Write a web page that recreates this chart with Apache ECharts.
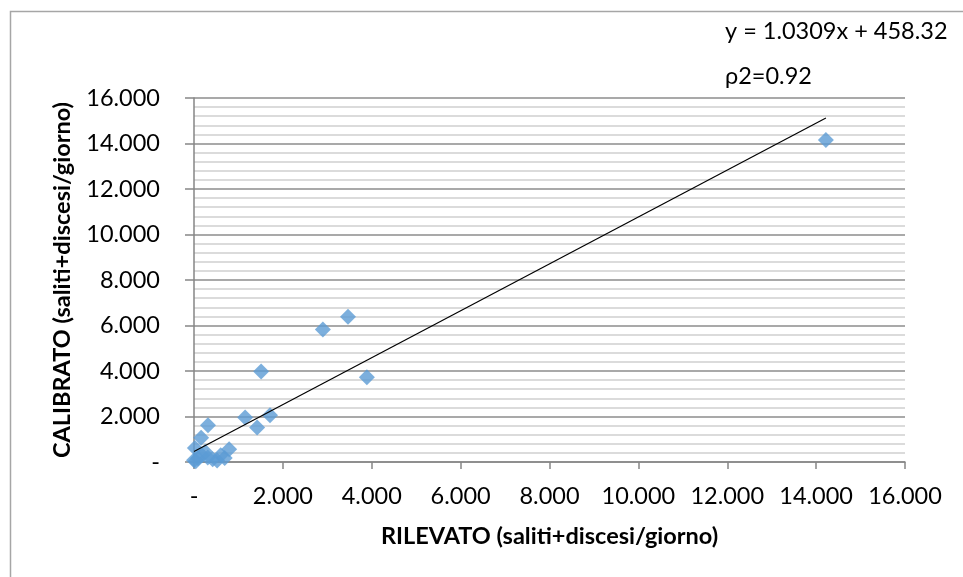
<!DOCTYPE html>
<html>
<head>
<meta charset="utf-8">
<script src="https://cdn.jsdelivr.net/npm/echarts@6/dist/echarts.min.js"></script>
<style>
html,body{margin:0;padding:0;background:#fff;}
#chart{width:963px;height:577px;}
</style>
</head>
<body>
<div id="chart"></div>
<script>
// Observed (RILEVATO) values
const rilevato = [14220, 3465, 2900, 3890, 1510, 1150, 1710, 1420, 315, 160, 20,
                  0, 90, 180, 310, 420, 520, 600, 690, 790, 250, 40];
// Calibrated (CALIBRATO) values
const calibrato = [14150, 6390, 5820, 3720, 3980, 1960, 2050, 1520, 1610, 1070, 610,
                   80, 160, 300, 200, 120, 70, 300, 180, 555, 450, 30];
// Trendline coefficients (from the chart label)
const slope = 1.0309;
const intercept = 458.32;
const equationText = 'y = 1.0309x + 458.32';
const rhoText = 'ρ2=0.92';
const xTitle = 'RILEVATO (saliti+discesi/giorno)';
const yTitle = 'CALIBRATO (saliti+discesi/giorno)';

const points = rilevato.map((x, i) => [x, calibrato[i]]);
const xMin = Math.min(...rilevato), xMax = Math.max(...rilevato);
const trend = [[xMin, slope * xMin + intercept], [xMax, slope * xMax + intercept]];

function fmt(v) {
  if (v === 0) return '-';
  return String(v).replace(/\B(?=(\d{3})+(?!\d))/g, '.');
}

const FONT = 'Lato';
const FS = 23.5;
const chart = echarts.init(document.getElementById('chart'));
chart.setOption({
  animation: false,
  backgroundColor: '#fff',
  textStyle: { fontFamily: FONT },
  grid: { left: 194, right: 58, top: 98, bottom: 115 },
  graphic: [
    { type: 'rect', left: 8, top: 9, shape: { width: 1000, height: 620 },
      style: { fill: 'none', stroke: '#a6a6a6', lineWidth: 1.5 }, silent: true, z: -1 },
    { type: 'text', left: 725, top: 19, style: { text: equationText, font: FS + 'px Lato', fill: '#000' } },
    { type: 'text', left: 725, top: 64, style: { text: rhoText, font: FS + 'px Lato', fill: '#000' } }
  ],
  xAxis: {
    type: 'value', min: 0, max: 16000, interval: 2000,
    name: xTitle, nameLocation: 'middle', nameGap: 62,
    nameTextStyle: { fontFamily: FONT, fontSize: FS, fontWeight: 'bold', color: '#000' },
    axisLine: { show: true, lineStyle: { color: '#868686', width: 1.5 } },
    axisTick: { show: true, length: 7, lineStyle: { color: '#868686', width: 1.5 } },
    axisLabel: { formatter: fmt, fontFamily: FONT, fontSize: FS, color: '#000', margin: 22 },
    splitLine: { show: false }
  },
  yAxis: {
    type: 'value', min: 0, max: 16000, interval: 2000,
    name: yTitle, nameLocation: 'middle', nameGap: 120, nameRotate: 90,
    nameTextStyle: { fontFamily: FONT, fontSize: FS, fontWeight: 'bold', color: '#000' },
    axisLine: { show: true, lineStyle: { color: '#868686', width: 1.5 } },
    axisTick: { show: true, length: 9, lineStyle: { color: '#868686', width: 1.5 } },
    axisLabel: { formatter: fmt, fontFamily: FONT, fontSize: FS, color: '#000', margin: 34 },
    splitLine: { show: true, lineStyle: { color: '#8c8c8c', width: 1.5 } },
    minorTick: { show: false, splitNumber: 5 },
    minorSplitLine: { show: true, lineStyle: { color: '#cfcfcf', width: 1.5 } }
  },
  series: [
    {
      type: 'line', data: trend, symbol: 'none', silent: true, z: 3,
      lineStyle: { color: '#000', width: 1.2 }
    },
    {
      type: 'scatter', data: points, symbol: 'diamond', symbolSize: 16, z: 2,
      itemStyle: { color: '#5B9BD5' }
    }
  ]
});
</script>
</body>
</html>
